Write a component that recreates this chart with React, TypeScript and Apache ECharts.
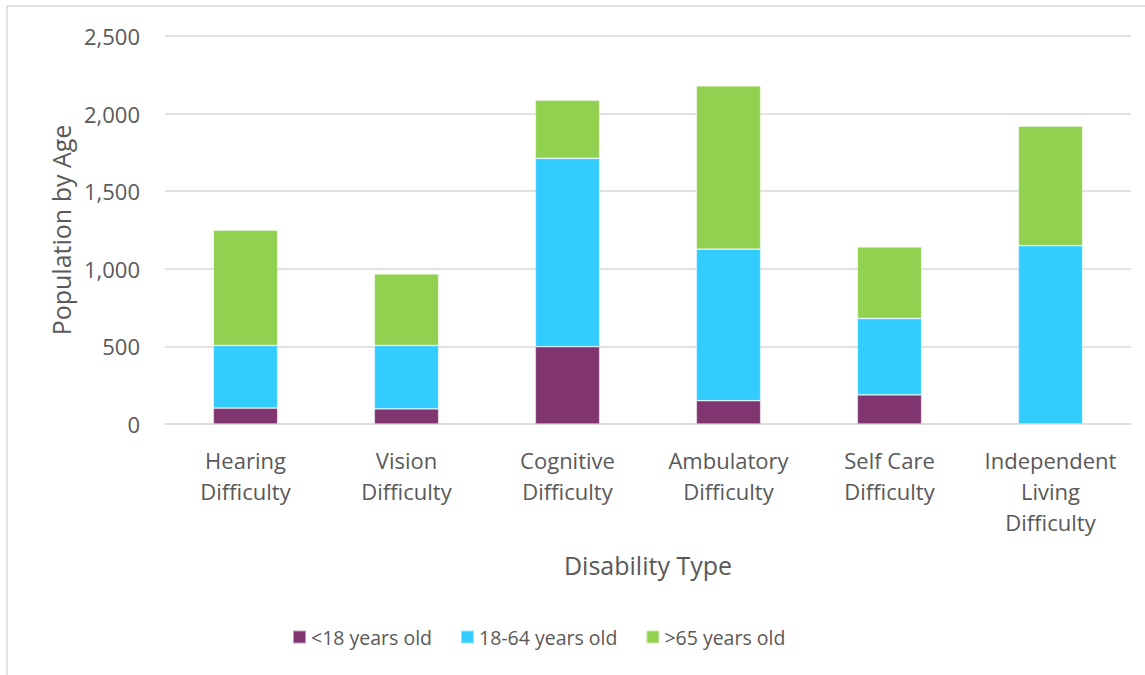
import React, { useEffect, useRef } from "react";
import * as echarts from "echarts";

const categories = [
  "Hearing\nDifficulty",
  "Vision\nDifficulty",
  "Cognitive\nDifficulty",
  "Ambulatory\nDifficulty",
  "Self Care\nDifficulty",
  "Independent\nLiving\nDifficulty",
];
const under18 = [103, 98, 498, 150, 188, 0];
const age18to64 = [403, 408, 1214, 977, 492, 1149];
const over65 = [744, 461, 375, 1052, 461, 771];
const seriesNames = ["<18 years old", "18-64 years old", ">65 years old"];
const colors = ["#803470", "#33CCFF", "#92D050"];

const FONT = "'Open Sans', 'Noto Sans', sans-serif";
const TXT = "#595959";

export default function App() {
  const ref = useRef<HTMLDivElement>(null);
  useEffect(() => {
    if (!ref.current) return;
    const chart = echarts.init(ref.current, null, { renderer: "svg" });
    const data = [under18, age18to64, over65];
    chart.setOption({
      animation: false,
      backgroundColor: "#ffffff",
      textStyle: { fontFamily: FONT, color: TXT },
      graphic: [
        {
          type: "rect",
          shape: { x: 7, y: 6, width: 1300, height: 1000 },
          style: { fill: "none", stroke: "#d9d9d9", lineWidth: 1.5 },
          silent: true,
          z: -1,
        },
      ],
      grid: { left: 165, right: 14, top: 36, bottom: 251, containLabel: false },
      legend: {
        left: 287,
        top: 622,
        itemWidth: 13,
        itemHeight: 13,
        itemGap: 28,
        icon: "rect",
        textStyle: { fontFamily: FONT, color: TXT, fontSize: 19.5 },
        data: seriesNames,
      },
      xAxis: {
        type: "category",
        data: categories,
        name: "Disability Type",
        nameLocation: "middle",
        nameGap: 128,
        nameTextStyle: { fontFamily: FONT, color: TXT, fontSize: 25 },
        axisLine: { lineStyle: { color: "#d9d9d9", width: 1.5 } },
        axisTick: { show: false },
        axisLabel: {
          fontFamily: FONT,
          color: TXT,
          fontSize: 22,
          lineHeight: 31,
          margin: 20,
          interval: 0,
        },
      },
      yAxis: {
        type: "value",
        min: 0,
        max: 2500,
        interval: 500,
        name: "Population by Age",
        nameLocation: "middle",
        nameGap: 90,
        nameTextStyle: { fontFamily: FONT, color: TXT, fontSize: 25 },
        axisLine: { show: false },
        axisTick: { show: false },
        splitLine: { lineStyle: { color: "#d9d9d9", width: 1.5 } },
        axisLabel: {
          fontFamily: FONT,
          color: TXT,
          fontSize: 22,
          margin: 25,
          formatter: (v: number) => v.toLocaleString("en-US"),
        },
      },
      series: seriesNames.map((name, i) => ({
        name,
        type: "bar",
        stack: "total",
        data: data[i],
        barWidth: "40%",
        itemStyle: {
          color: colors[i],
          borderColor: "rgba(255,255,255,0.5)",
          borderWidth: 0.75,
        },
      })),
    });
    return () => chart.dispose();
  }, []);
  return (
    <div
      ref={ref}
      style={{ position: "fixed", left: 0, top: 0, width: 1145, height: 675 }}
    />
  );
}
